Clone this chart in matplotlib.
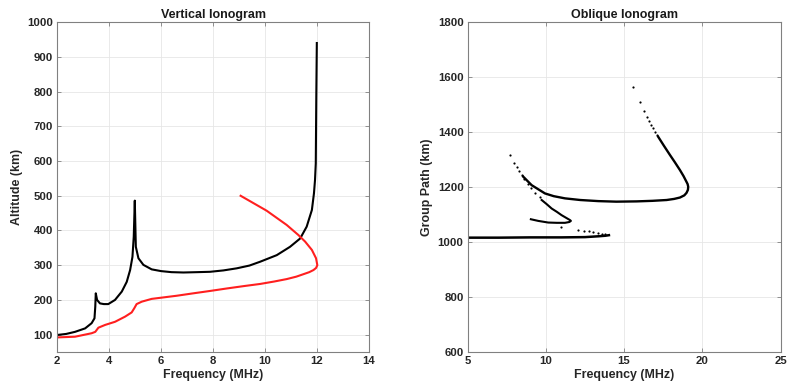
import matplotlib
matplotlib.use("Agg")
import matplotlib.pyplot as plt

plt.rcParams['font.family'] = ['Liberation Sans', 'DejaVu Sans']
plt.rcParams['font.weight'] = 'bold'

# ---- Vertical ionogram ----
vert_black_f = [2.0, 2.35, 2.69, 3.08, 3.33, 3.44, 3.47, 3.49, 3.54, 3.65, 3.8, 3.97, 4.23, 4.49,
                4.68, 4.81, 4.9, 4.95, 4.99, 5.03, 5.13, 5.32, 5.64, 6.0, 6.4, 6.86, 7.4, 7.88,
                8.4, 8.91, 9.4, 9.81, 10.45, 10.96, 11.35, 11.6, 11.8, 11.88, 11.92, 11.95,
                11.97, 11.99]
vert_black_h = [99, 102, 108, 118, 133, 147, 180, 219, 200, 190, 188, 188, 200, 224,
                252, 286, 324, 382, 486, 353, 320, 301, 288, 283, 280, 279, 280, 281,
                285, 291, 299, 310, 329, 353, 377, 411, 459, 507, 545, 593,
                785, 940]
vert_red_f = [2.0, 2.69, 3.33, 3.47, 3.59, 3.85, 4.23, 4.62, 4.87, 4.97, 5.06, 5.26, 5.64, 5.96,
              6.6, 7.24, 7.9, 8.53, 9.2, 9.81, 10.35, 10.83, 11.2, 11.47, 11.7, 11.86, 11.96,
              12.01, 11.96, 11.8, 11.54, 11.28, 10.83, 10.06, 9.06]
vert_red_h = [92, 94, 104, 108, 120, 128, 137, 152, 164, 176, 188, 195, 203, 206,
              212, 219, 226, 233, 240, 246, 253, 260, 267, 274, 280, 286, 292,
              300, 320, 344, 368, 387, 416, 457, 500]

# ---- Oblique ionogram ----
obl_low_f = [5.0, 7.0, 9.0, 11.0, 12.5, 13.35, 13.8, 14.03]
obl_low_h = [1016, 1016, 1017, 1017, 1018, 1021, 1023, 1025]
obl_low_dots_f = [10.96, 12.03, 12.45, 12.75, 13.03, 13.3, 13.56, 13.8]
obl_low_dots_h = [1053, 1043, 1041, 1039, 1037, 1034, 1031, 1028]

obl_mid_f = [9.04, 9.51, 10.15, 10.7, 11.22, 11.5, 11.6, 11.54, 11.3, 11.0, 10.7, 10.37, 10.05, 9.73]
obl_mid_h = [1083, 1077, 1071, 1070, 1070, 1073, 1077, 1080, 1088, 1098, 1110, 1122, 1138, 1153]
obl_mid_dots_f = [7.70, 7.98, 8.13, 8.28, 8.45, 8.62, 8.83, 9.04, 9.3, 9.62]
obl_mid_dots_h = [1317, 1286, 1274, 1259, 1244, 1228, 1213, 1195, 1177, 1165]

obl_big_f = [8.55, 9.09, 9.94, 10.5, 11.22, 12.2, 13.35, 14.5, 15.8, 16.8, 17.72, 18.2, 18.57,
             18.85, 18.99, 19.08, 19.1, 19.06, 18.99, 18.8, 18.57, 18.25, 17.93, 17.55, 17.18]
obl_big_h = [1238, 1207, 1177, 1167, 1159, 1153, 1149, 1147, 1148, 1150, 1153, 1157, 1162,
             1170, 1179, 1190, 1201, 1211, 1219, 1240, 1262, 1290, 1317, 1350, 1383]
obl_big_dots_f = [15.58, 15.99, 16.25, 16.44, 16.59, 16.73, 16.86, 16.99, 17.12]
obl_big_dots_h = [1563, 1509, 1478, 1456, 1440, 1426, 1414, 1401, 1389]

tick_col = '#262626'
spine_col = '#808080'
grid_col = '#e6e6e6'

fig = plt.figure(figsize=(7.9, 3.88), dpi=100)
ax1 = fig.add_axes([0.0722, 0.0928, 0.395, 0.850])
ax2 = fig.add_axes([0.592, 0.0928, 0.396, 0.850])

for ax in (ax1, ax2):
    ax.grid(True, color=grid_col, linewidth=0.6)
    ax.set_axisbelow(True)
    for s in ax.spines.values():
        s.set_color(spine_col)
        s.set_linewidth(0.8)
    ax.tick_params(direction='in', length=3, width=0.6, color=spine_col,
                   labelsize=8.2, labelcolor=tick_col, top=True, right=True, pad=3)

ax1.plot(vert_black_f, vert_black_h, color='black', linewidth=1.5, solid_joinstyle='round')
ax1.plot(vert_red_f, vert_red_h, color='#ff1f1f', linewidth=1.5, solid_joinstyle='round')
ax1.set_xlim(2, 14)
ax1.set_ylim(50, 1000)
ax1.set_xticks([2, 4, 6, 8, 10, 12, 14])
ax1.set_yticks(list(range(100, 1001, 100)))
ax1.set_title('Vertical Ionogram', fontsize=9, fontweight='bold', color='#1a1a1a', pad=3)
ax1.set_xlabel('Frequency (MHz)', fontsize=8.9, fontweight='bold', color=tick_col, labelpad=2)
ax1.set_ylabel('Altitude (km)', fontsize=8.9, fontweight='bold', color=tick_col, labelpad=3)

ax2.plot(obl_low_f, obl_low_h, color='black', linewidth=1.8, solid_joinstyle='round')
ax2.plot(obl_mid_f, obl_mid_h, color='black', linewidth=1.5, solid_joinstyle='round')
ax2.plot(obl_big_f, obl_big_h, color='black', linewidth=1.7, solid_joinstyle='round')
ax2.scatter(obl_low_dots_f, obl_low_dots_h, s=2.5, color='black', linewidths=0)
ax2.scatter(obl_mid_dots_f, obl_mid_dots_h, s=2.5, color='black', linewidths=0)
ax2.scatter(obl_big_dots_f, obl_big_dots_h, s=2.5, color='black', linewidths=0)
ax2.set_xlim(5, 25)
ax2.set_ylim(600, 1800)
ax2.set_xticks([5, 10, 15, 20, 25])
ax2.set_yticks(list(range(600, 1801, 200)))
ax2.set_title('Oblique Ionogram', fontsize=9, fontweight='bold', color='#1a1a1a', pad=3)
ax2.set_xlabel('Frequency (MHz)', fontsize=8.9, fontweight='bold', color=tick_col, labelpad=2)
ax2.set_ylabel('Group Path (km)', fontsize=8.9, fontweight='bold', color=tick_col, labelpad=3)

fig.savefig('out.png', dpi=100)
